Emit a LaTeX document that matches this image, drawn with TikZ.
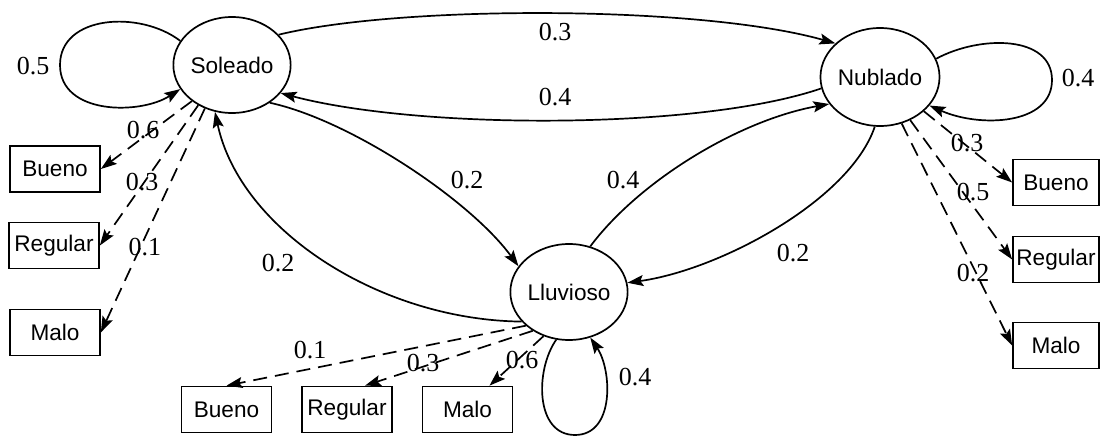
\documentclass[tikz,border=0pt]{standalone}
\usepackage{fontspec}
\setmainfont{Liberation Serif}
\newfontfamily\nodefont{Liberation Sans}
\usetikzlibrary{shapes.geometric,arrows.meta}
\begin{document}
\begin{tikzpicture}[x=0.5pt,y=-0.5pt,
  state/.style={ellipse,draw,line width=0.85pt,inner sep=0pt,font=\nodefont\fontsize{11.3}{13}\selectfont},
  obs/.style={rectangle,draw,line width=0.85pt,minimum width=45pt,minimum height=23pt,inner sep=0pt,font=\nodefont\fontsize{11.3}{13}\selectfont},
  trans/.style={line width=0.85pt,-{Stealth[length=8pt,width=5.5pt,inset=1.5pt]}},
  emit/.style={trans,dash pattern=on 7pt off 4pt},
  prob/.style={font=\fontsize{13}{15}\selectfont,inner sep=0pt}]
\useasboundingbox (0,0) rectangle (1100,439);
% states
\node[state,minimum width=55pt,minimum height=48pt] (S) at (232,65) {Soleado};
\node[state,minimum width=55pt,minimum height=49pt] (N) at (880,77) {Nublado};
\node[state,minimum width=54pt,minimum height=48pt] (L) at (569,292) {Lluvioso};
% observation boxes
\node[obs] (SB) at (55,169) {Bueno};
\node[obs] (SR) at (54,245.5) {Regular};
\node[obs] (SM) at (55,332.5) {Malo};
\node[obs,minimum width=43pt] (NB) at (1056,182.5) {Bueno};
\node[obs,minimum width=43pt] (NR) at (1056,259.5) {Regular};
\node[obs,minimum width=43pt] (NM) at (1056,345.5) {Malo};
\node[obs] (LB) at (226.5,409.5) {Bueno};
\node[obs] (LR) at (347,409.5) {Regular};
\node[obs] (LM) at (467.5,409.5) {Malo};
% transitions
\draw[trans] (S.33) .. controls (400,5) and (700,5) .. (N.143);
\draw[trans] (N.191) .. controls (700,130) and (420,130) .. (S.-30);
\draw[trans] (S.-45) .. controls (350,120) and (470,200) .. (L.153);
\draw[trans] (L.212) .. controls (380,320) and (240,230) .. (S.250);
\draw[trans] (L.65) .. controls (640,180) and (740,120) .. (N.208);
\draw[trans] (N.264) .. controls (850,200) and (720,270) .. (L.9);
% self loops
\draw[trans] (S.155) .. controls (140,10) and (60,15) .. (60,65) .. controls (60,115) and (140,115) .. (S.205);
\draw[trans] (N.18) .. controls (980,35) and (1052,35) .. (1052,80) .. controls (1052,125) and (980,128) .. (N.-30);
\draw[trans] (L.-105) .. controls (535,370) and (535,435) .. (575,435) .. controls (615,435) and (612,370) .. (L.-65);
% emissions
\draw[emit] (S.222) -- (SB.east);
\draw[emit] (S.230) -- (SR.east);
\draw[emit] (S.238) -- (SM.east);
\draw[emit] (N.-38) -- (NB.west);
\draw[emit] (N.-55) -- (NR.west);
\draw[emit] (N.-65) -- (NM.west);
\draw[emit] (L.218) -- (LB.north);
\draw[emit] (L.227) -- ([xshift=9pt]LR.north);
\draw[emit] (L.240) -- ([xshift=11pt]LM.north);
% probability labels
\node[prob] (pSS) at (33,66) {0.5};
\node[prob] (pSN) at (555,32) {0.3};
\node[prob] (pNS) at (555,97) {0.4};
\node[prob] (pNN) at (1078,78) {0.4};
\node[prob] (pSL) at (467,180) {0.2};
\node[prob] (pLN) at (623,180) {0.4};
\node[prob] (pLS) at (278,263) {0.2};
\node[prob] (pNL) at (793,253) {0.2};
\node[prob] (pSB) at (143,130) {0.6};
\node[prob] (pSR) at (142,182) {0.3};
\node[prob] (pSM) at (145,247) {0.1};
\node[prob] (pNB) at (967,143) {0.3};
\node[prob] (pNR) at (973,192) {0.5};
\node[prob] (pNM) at (973,273) {0.2};
\node[prob] (pLB) at (310,350) {0.1};
\node[prob] (pLR) at (423,363) {0.3};
\node[prob] (pLM) at (522,360) {0.6};
\node[prob] (pLL) at (635,377) {0.4};
\end{tikzpicture}
\end{document}
